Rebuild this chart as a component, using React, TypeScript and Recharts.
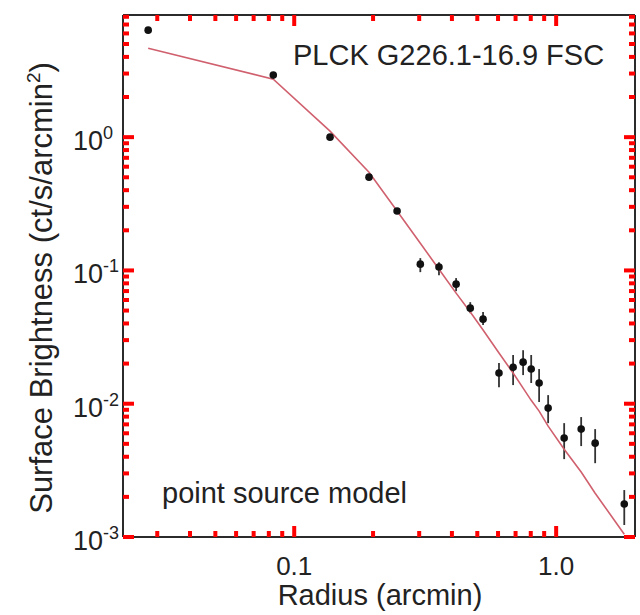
import React from "react";
import { ComposedChart, Scatter, Line, XAxis, YAxis, ErrorBar } from "recharts";

// surface brightness profile
const radius = [
	0.0277, 0.0832, 0.137, 0.193, 0.247, 0.303, 0.357, 0.415, 0.47, 0.526,
	0.605, 0.685, 0.748, 0.803, 0.861, 0.932, 1.073, 1.246, 1.409, 1.82,
];
const brightness = [
	6.35, 2.92, 1.0, 0.501, 0.279, 0.1115, 0.106, 0.0789, 0.0521, 0.0431,
	0.017, 0.0188, 0.0205, 0.0182, 0.0143, 0.00927, 0.00552, 0.00645, 0.00506,
	0.00177,
];
const errLow = [
	6.03, 2.77, 0.95, 0.476, 0.265, 0.0971, 0.0922, 0.0699, 0.0478, 0.0389,
	0.0133, 0.0138, 0.0164, 0.0143, 0.0103, 0.00715, 0.00384, 0.00481, 0.00358,
	0.00123,
];
const errHigh = [
	6.69, 3.07, 1.05, 0.528, 0.293, 0.1237, 0.1154, 0.0876, 0.0578, 0.0487,
	0.0202, 0.0232, 0.0252, 0.0232, 0.0182, 0.0116, 0.00715, 0.00794, 0.00645,
	0.00225,
];
// point source model (red line)
const model = [
	4.65, 2.72, 1.11, 0.546, 0.279, 0.16, 0.102, 0.0676, 0.0487, 0.0357, 0.024,
	0.017, 0.0131, 0.0106, 0.0088, 0.00679, 0.00456, 0.00307, 0.00213, 0.00105,
];

const xMajorTicks = [0.1, 1.0];
const xTickLabels = ["0.1", "1.0"];
const xMinorTicks = [
	0.03, 0.04, 0.05, 0.06, 0.07, 0.08, 0.09, 0.2, 0.3, 0.4, 0.5, 0.6, 0.7, 0.8,
	0.9,
];
const yMajorTicks = [0.001, 0.01, 0.1, 1];
const yExponents = ["-3", "-2", "-1", "0"];
const yMinorTicks = [
	0.002, 0.003, 0.004, 0.005, 0.006, 0.007, 0.008, 0.009, 0.02, 0.03, 0.04,
	0.05, 0.06, 0.07, 0.08, 0.09, 0.2, 0.3, 0.4, 0.5, 0.6, 0.7, 0.8, 0.9, 2, 3,
	4, 5, 6, 7, 8,
];

const X_DOMAIN = [0.0222, 2.0];
const Y_DOMAIN = [0.001, 8.25];

const FONT = "'Liberation Sans', Arial, Helvetica, sans-serif";
const AXIS_COLOR = "#2b2b2b";
const TEXT_COLOR = "#222";
const MODEL_COLOR = "#d0606e";
const MAJOR = 11;
const MINOR = 6;

const data = radius.map((r, i) => ({
	r,
	sb: brightness[i],
	lo: errLow[i],
	hi: errHigh[i],
	model: model[i],
}));

const xTicks = [...xMinorTicks, ...xMajorTicks].sort((a, b) => a - b);
const yTicks = [...yMinorTicks, ...yMajorTicks].sort((a, b) => a - b);

// one tick renderer for all four sides; the tick points into the frame
function FrameTick(props: any) {
	const { side, payload } = props;
	const x = Number(props.x);
	const y = Number(props.y);
	const horizontal = side === "bottom" || side === "top";
	const majors = horizontal ? xMajorTicks : yMajorTicks;
	const i = majors.indexOf(payload.value);
	const len = i >= 0 ? MAJOR : MINOR;
	let d = "";
	if (side === "bottom") d = `M${x},${y}L${x},${y - len}`;
	if (side === "top") d = `M${x},${y}L${x},${y + len}`;
	if (side === "left") d = `M${x},${y}L${x + len},${y}`;
	if (side === "right") d = `M${x},${y}L${x - len},${y}`;
	return (
		<g>
			<path d={d} stroke='red' strokeWidth={4} fill='none' />
			{side === "bottom" && i >= 0 && (
				<text x={x} y={y + 38} textAnchor='middle' fontSize={26} fontFamily={FONT} fill={TEXT_COLOR}>
					{xTickLabels[i]}
				</text>
			)}
			{side === "left" && i >= 0 && (
				<text x={x - 50} y={y + 13} textAnchor='start' fontSize={27} fontFamily={FONT} fill={TEXT_COLOR}>
					10
					<tspan dy={-11} fontSize={18}>
						{yExponents[i]}
					</tspan>
				</text>
			)}
		</g>
	);
}

const dot = (props: any) => <circle cx={props.cx} cy={props.cy} r={3.8} fill='#111' />;

export default function App() {
	return (
		<div style={{ width: 640, height: 615, background: "#fff" }}>
			<style>{"body{margin:0}"}</style>
			<ComposedChart
				width={640}
				height={615}
				data={data}
				margin={{ top: 14, right: 4, bottom: 77, left: 122 }}>
				<XAxis
					dataKey='r'
					type='number'
					scale='log'
					domain={X_DOMAIN}
					allowDataOverflow
					ticks={xTicks}
					interval={0}
					height={1}
					tickSize={0}
					tickMargin={0}
					tickLine={false}
					tick={<FrameTick side='bottom' />}
					axisLine={{ stroke: AXIS_COLOR, strokeWidth: 2 }}
				/>
				<XAxis
					xAxisId='top'
					orientation='top'
					dataKey='r'
					type='number'
					scale='log'
					domain={X_DOMAIN}
					allowDataOverflow
					ticks={xTicks}
					interval={0}
					height={1}
					tickSize={0}
					tickMargin={0}
					tickLine={false}
					tick={<FrameTick side='top' />}
					axisLine={{ stroke: AXIS_COLOR, strokeWidth: 2 }}
				/>
				<YAxis
					type='number'
					scale='log'
					domain={Y_DOMAIN}
					allowDataOverflow
					ticks={yTicks}
					interval={0}
					width={1}
					tickSize={0}
					tickMargin={0}
					tickLine={false}
					tick={<FrameTick side='left' />}
					axisLine={{ stroke: AXIS_COLOR, strokeWidth: 2 }}
				/>
				<YAxis
					yAxisId='right'
					orientation='right'
					type='number'
					scale='log'
					domain={Y_DOMAIN}
					allowDataOverflow
					ticks={yTicks}
					interval={0}
					width={1}
					tickSize={0}
					tickMargin={0}
					tickLine={false}
					tick={<FrameTick side='right' />}
					axisLine={{ stroke: AXIS_COLOR, strokeWidth: 2 }}
				/>
				<Scatter dataKey='sb' shape={dot} isAnimationActive={false}>
					<ErrorBar
						dataKey={(d: any) => [d.sb - d.lo, d.hi - d.sb]}
						direction='y'
						width={0}
						stroke='#333'
						strokeWidth={1.8}
					/>
				</Scatter>
				<Line
					dataKey='model'
					type='linear'
					stroke={MODEL_COLOR}
					strokeWidth={1.6}
					dot={false}
					activeDot={false}
					isAnimationActive={false}
				/>
				<text x={293} y={65} fontSize={29} fontFamily={FONT} fill={TEXT_COLOR}>
					PLCK G226.1-16.9 FSC
				</text>
				<text x={162} y={503} fontSize={29} fontFamily={FONT} fill={TEXT_COLOR}>
					point source model
				</text>
				<text x={380} y={605} textAnchor='middle' fontSize={29} fontFamily={FONT} fill={TEXT_COLOR}>
					Radius (arcmin)
				</text>
				<text
					x={52}
					y={288}
					textAnchor='middle'
					transform='rotate(-90, 52, 288)'
					fontSize={31}
					fontFamily={FONT}
					fill={TEXT_COLOR}>
					Surface Brightness (ct/s/arcmin
					<tspan dy={-12} fontSize={19}>
						2
					</tspan>
					<tspan dy={12}>)</tspan>
				</text>
			</ComposedChart>
		</div>
	);
}
